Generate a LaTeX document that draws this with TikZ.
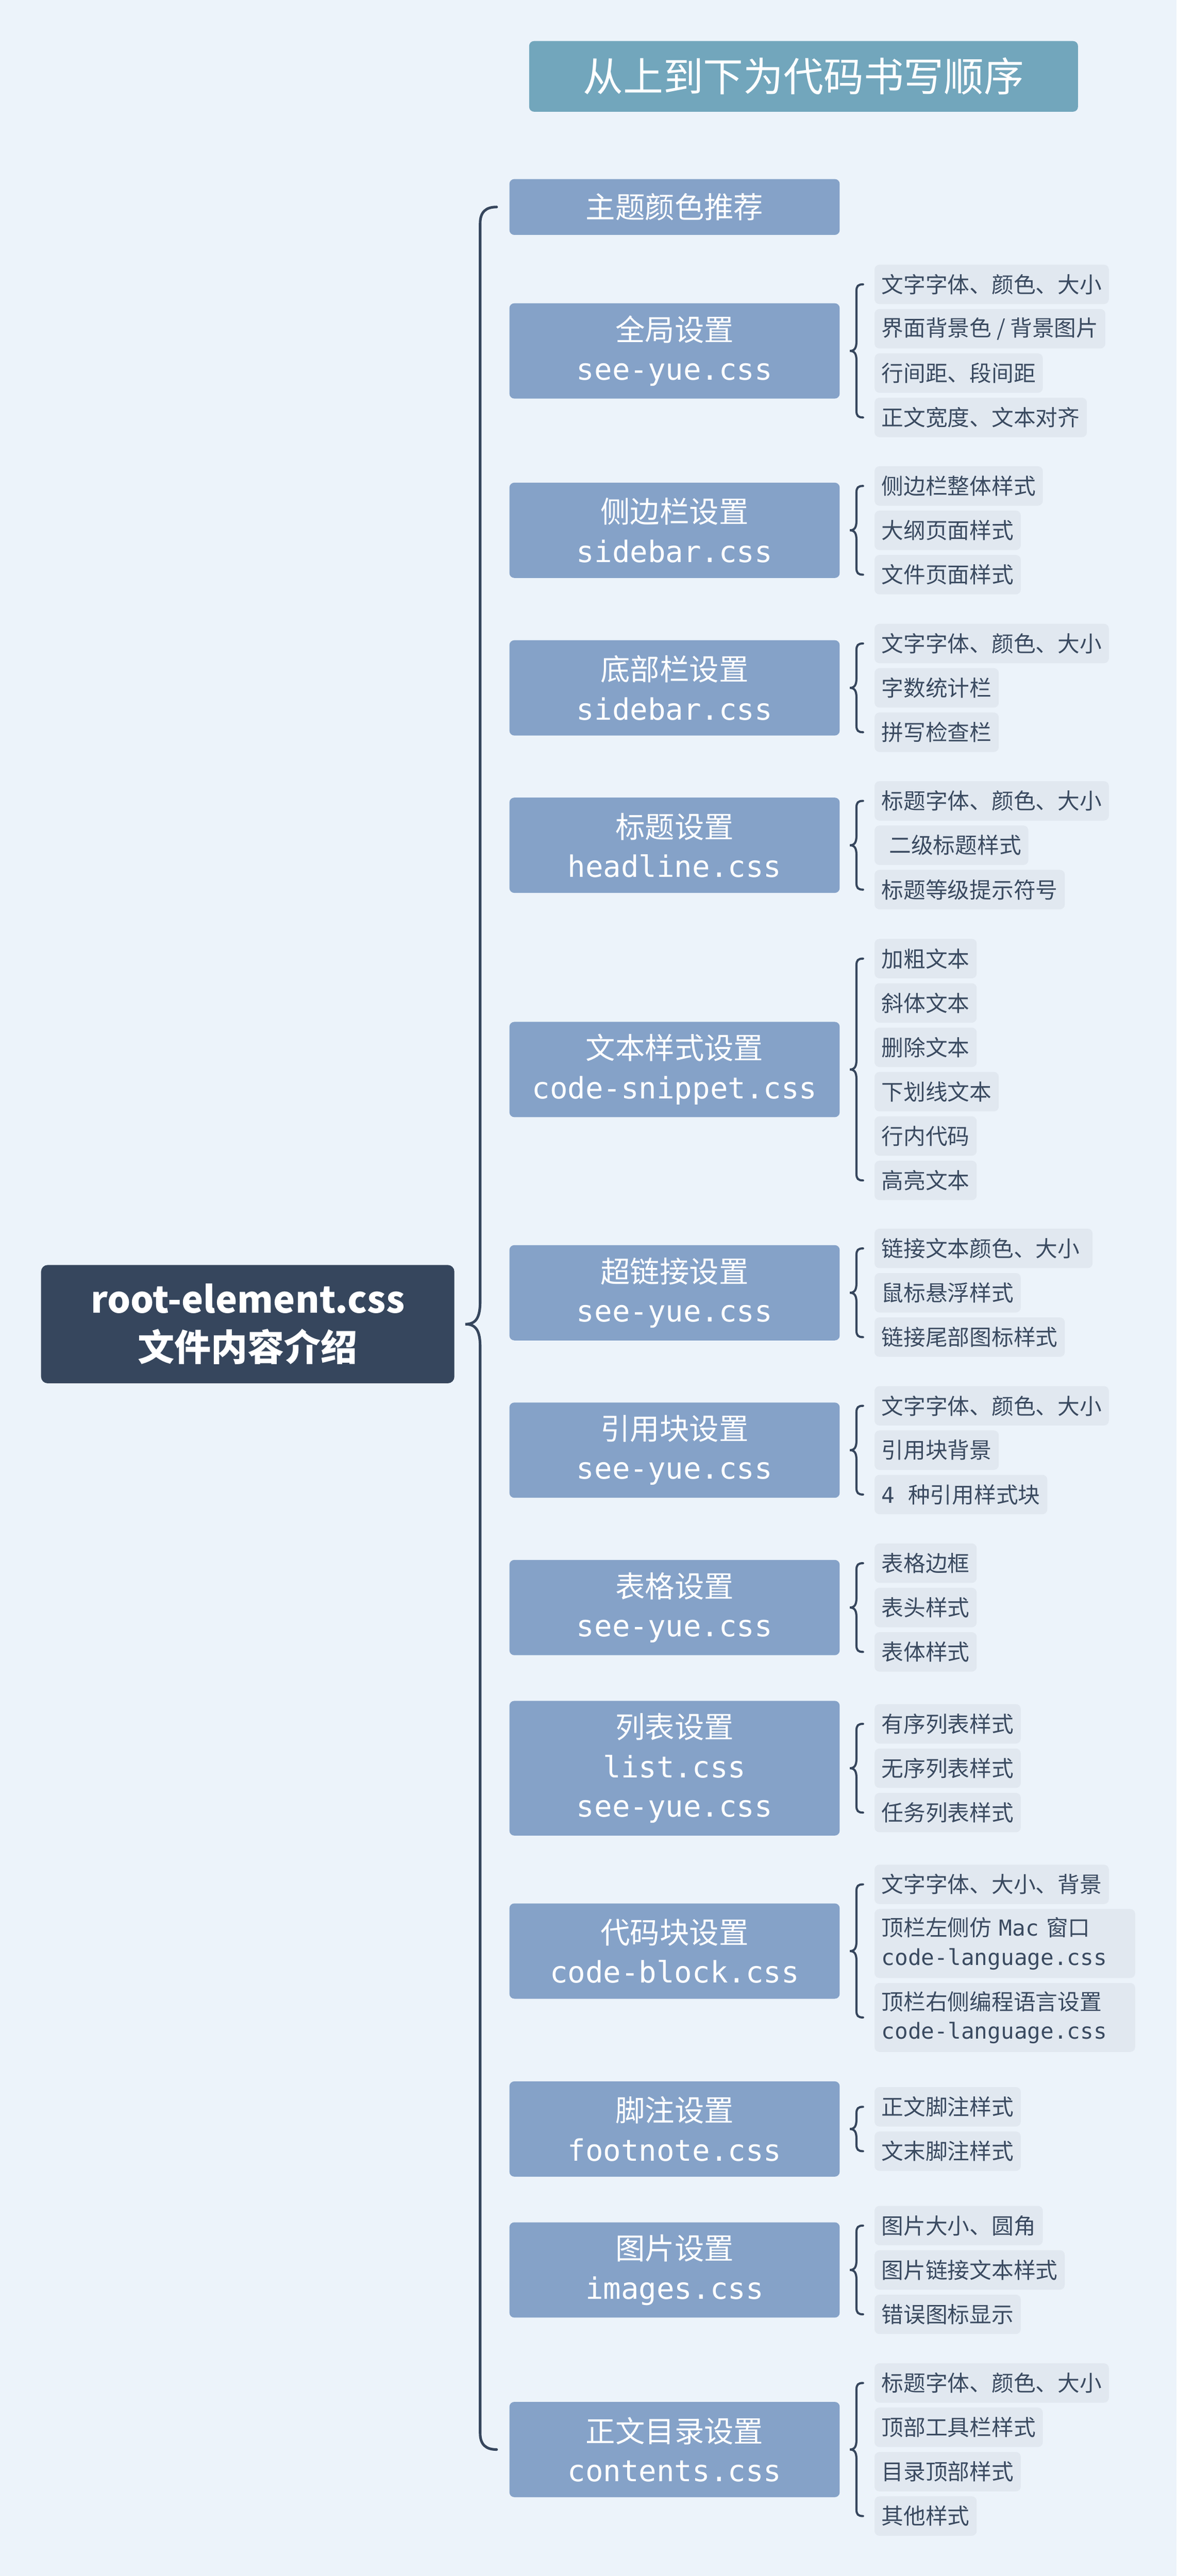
\documentclass[tikz,border=0pt]{standalone}
\usepackage{fontspec}
\newfontfamily\cjk{Noto Sans CJK SC}
\newfontfamily\mono{DejaVu Sans Mono}
\usetikzlibrary{calc}
\definecolor{bgc}{HTML}{ECF3FA}
\definecolor{topicc}{HTML}{85A2C8}
\definecolor{titlec}{HTML}{72A6BC}
\definecolor{rootc}{HTML}{36465D}
\definecolor{itemc}{HTML}{E1E8F0}
\definecolor{itemtxt}{HTML}{3A4A60}
\definecolor{linec}{HTML}{36465D}
\newcommand{\bracegrp}[3]{%
 \draw[brc] let \p1=(#2.west), \p2=(#3.west), \p3=(#1.east) in
  (\x3+14pt,\y1) .. controls (\x3+11pt,\y1) and (\x3+10pt,\y1-1pt) .. (\x3+10pt,\y1-4pt)
  -- (\x3+10pt,\y3+6pt) .. controls (\x3+10pt,\y3+2pt) and (\x3+9pt,\y3) .. (\x3+6pt,\y3)
  .. controls (\x3+9pt,\y3) and (\x3+10pt,\y3-2pt) .. (\x3+10pt,\y3-6pt)
  -- (\x3+10pt,\y2+4pt) .. controls (\x3+10pt,\y2+1pt) and (\x3+11pt,\y2) .. (\x3+14pt,\y2);}
\begin{document}
\begin{tikzpicture}[x=1pt,y=-1pt,
  titlebox/.style={fill=titlec, text=white, rounded corners=3pt, minimum width=334pt, minimum height=43pt, inner sep=0pt, font=\cjk\fontsize{24.4}{28}\selectfont},
  rootbox/.style={fill=rootc, text=white, rounded corners=4pt, minimum width=251.5pt, minimum height=72pt, inner sep=0pt, align=center, font=\cjk\bfseries\fontsize{22.3}{29}\selectfont},
  topicbox/.style={fill=topicc, text=white, rounded corners=3pt, minimum width=201pt, minimum height=58pt, inner sep=0pt, align=center, font=\cjk\fontsize{18}{24}\selectfont},
  subitem/.style={fill=itemc, text=itemtxt, rounded corners=3pt, anchor=west, inner xsep=4.3pt, inner ysep=0pt, minimum height=24pt, font=\cjk\fontsize{13.4}{17.7}\selectfont},
  brc/.style={draw=linec, line width=1.3pt, line cap=round},
  mainbrc/.style={draw=linec, line width=1.6pt, line cap=round}]
\useasboundingbox (0,0) rectangle (716,1568);
\fill[bgc] (0,0) rectangle (716,1568);

\node[titlebox] (title) at (489,46.5) {从上到下为代码书写顺序};
\node[rootbox] (root) at (150.75,806) {root-element.css\\文件内容介绍};

% level one
\node[topicbox, minimum height=34pt] (b1) at (410.5,126) {主题颜色推荐};
\node[topicbox] (b2) at (410.5,213.6) {全局设置\\{\mono see-yue.css}};
\node[topicbox] (b3) at (410.5,322.8) {侧边栏设置\\{\mono sidebar.css}};
\node[topicbox] (b4) at (410.5,418.7) {底部栏设置\\{\mono sidebar.css}};
\node[topicbox] (b5) at (410.5,514.5) {标题设置\\{\mono headline.css}};
\node[topicbox] (b6) at (410.5,651) {文本样式设置\\{\mono code-snippet.css}};
\node[topicbox] (b7) at (410.5,786.9) {超链接设置\\{\mono see-yue.css}};
\node[topicbox] (b8) at (410.5,882.7) {引用块设置\\{\mono see-yue.css}};
\node[topicbox] (b9) at (410.5,978.5) {表格设置\\{\mono see-yue.css}};
\node[topicbox, minimum height=82pt] (b10) at (410.5,1076.3) {列表设置\\{\mono list.css}\\{\mono see-yue.css}};
\node[topicbox] (b11) at (410.5,1187.6) {代码块设置\\{\mono code-block.css}};
\node[topicbox] (b12) at (410.5,1295.9) {脚注设置\\{\mono footnote.css}};
\node[topicbox] (b13) at (410.5,1381.7) {图片设置\\{\mono images.css}};
\node[topicbox] (b14) at (410.5,1491) {正文目录设置\\{\mono contents.css}};

% level two
\node[subitem] (b2a) at (532,173.1) {文字字体、颜色、大小};
\node[subitem] (b2b) at (532,200.1) {界面背景色 / 背景图片};
\node[subitem] (b2c) at (532,227.1) {行间距、段间距};
\node[subitem] (b2d) at (532,254.1) {正文宽度、文本对齐};

\node[subitem] (b3a) at (532,295.8) {侧边栏整体样式};
\node[subitem] (b3b) at (532,322.8) {大纲页面样式};
\node[subitem] (b3c) at (532,349.8) {文件页面样式};

\node[subitem] (b4a) at (532,391.7) {文字字体、颜色、大小};
\node[subitem] (b4b) at (532,418.7) {字数统计栏};
\node[subitem] (b4c) at (532,445.7) {拼写检查栏};

\node[subitem] (b5a) at (532,487.5) {标题字体、颜色、大小};
\node[subitem] (b5b) at (532,514.5) {\hspace*{4.6pt}二级标题样式};
\node[subitem] (b5c) at (532,541.5) {标题等级提示符号};

\node[subitem] (b6a) at (532,583.5) {加粗文本};
\node[subitem] (b6b) at (532,610.5) {斜体文本};
\node[subitem] (b6c) at (532,637.5) {删除文本};
\node[subitem] (b6d) at (532,664.5) {下划线文本};
\node[subitem] (b6e) at (532,691.5) {行内代码};
\node[subitem] (b6f) at (532,718.5) {高亮文本};

\node[subitem] (b7a) at (532,759.9) {链接文本颜色、大小\hspace*{3.5pt}};
\node[subitem] (b7b) at (532,786.9) {鼠标悬浮样式};
\node[subitem] (b7c) at (532,813.9) {链接尾部图标样式};

\node[subitem] (b8a) at (532,855.7) {文字字体、颜色、大小};
\node[subitem] (b8b) at (532,882.7) {引用块背景};
\node[subitem] (b8c) at (532,909.7) {{\mono 4 }种引用样式块};

\node[subitem] (b9a) at (532,951.5) {表格边框};
\node[subitem] (b9b) at (532,978.5) {表头样式};
\node[subitem] (b9c) at (532,1005.5) {表体样式};

\node[subitem] (b10a) at (532,1049.3) {有序列表样式};
\node[subitem] (b10b) at (532,1076.3) {无序列表样式};
\node[subitem] (b10c) at (532,1103.3) {任务列表样式};

\node[subitem] (b11a) at (532,1147) {文字字体、大小、背景};
\node[subitem, minimum height=42pt, text width=150pt, align=left] (b11b) at (532,1183) {顶栏左侧仿{\mono\ Mac }窗口\\{\mono code-language.css}};
\node[subitem, minimum height=42pt, text width=150pt, align=left] (b11c) at (532,1228) {顶栏右侧编程语言设置\\{\mono code-language.css}};

\node[subitem] (b12a) at (532,1282.4) {正文脚注样式};
\node[subitem] (b12b) at (532,1309.4) {文末脚注样式};

\node[subitem] (b13a) at (532,1354.7) {图片大小、圆角};
\node[subitem] (b13b) at (532,1381.7) {图片链接文本样式};
\node[subitem] (b13c) at (532,1408.7) {错误图标显示};

\node[subitem] (b14a) at (532,1450.5) {标题字体、颜色、大小};
\node[subitem] (b14b) at (532,1477.5) {顶部工具栏样式};
\node[subitem] (b14c) at (532,1504.5) {目录顶部样式};
\node[subitem] (b14d) at (532,1531.5) {其他样式};

% main brace
\draw[mainbrc] let \p1=(b1.west), \p2=(b14.west), \p3=(root.east) in
  (\x3+25.5pt,\y1) .. controls (\x3+19pt,\y1) and (\x3+15.5pt,\y1-3pt) .. (\x3+15.5pt,\y1-10pt)
  -- (\x3+15.5pt,\y3+14pt) .. controls (\x3+15.5pt,\y3+4pt) and (\x3+13pt,\y3) .. (\x3+6.5pt,\y3)
  .. controls (\x3+13pt,\y3) and (\x3+15.5pt,\y3-4pt) .. (\x3+15.5pt,\y3-14pt)
  -- (\x3+15.5pt,\y2+10pt) .. controls (\x3+15.5pt,\y2+3pt) and (\x3+19pt,\y2) .. (\x3+25.5pt,\y2);

% group braces
\bracegrp{b2}{b2a}{b2d}
\bracegrp{b3}{b3a}{b3c}
\bracegrp{b4}{b4a}{b4c}
\bracegrp{b5}{b5a}{b5c}
\bracegrp{b6}{b6a}{b6f}
\bracegrp{b7}{b7a}{b7c}
\bracegrp{b8}{b8a}{b8c}
\bracegrp{b9}{b9a}{b9c}
\bracegrp{b10}{b10a}{b10c}
\bracegrp{b11}{b11a}{b11c}
\bracegrp{b12}{b12a}{b12b}
\bracegrp{b13}{b13a}{b13c}
\bracegrp{b14}{b14a}{b14d}
\end{tikzpicture}
\end{document}
